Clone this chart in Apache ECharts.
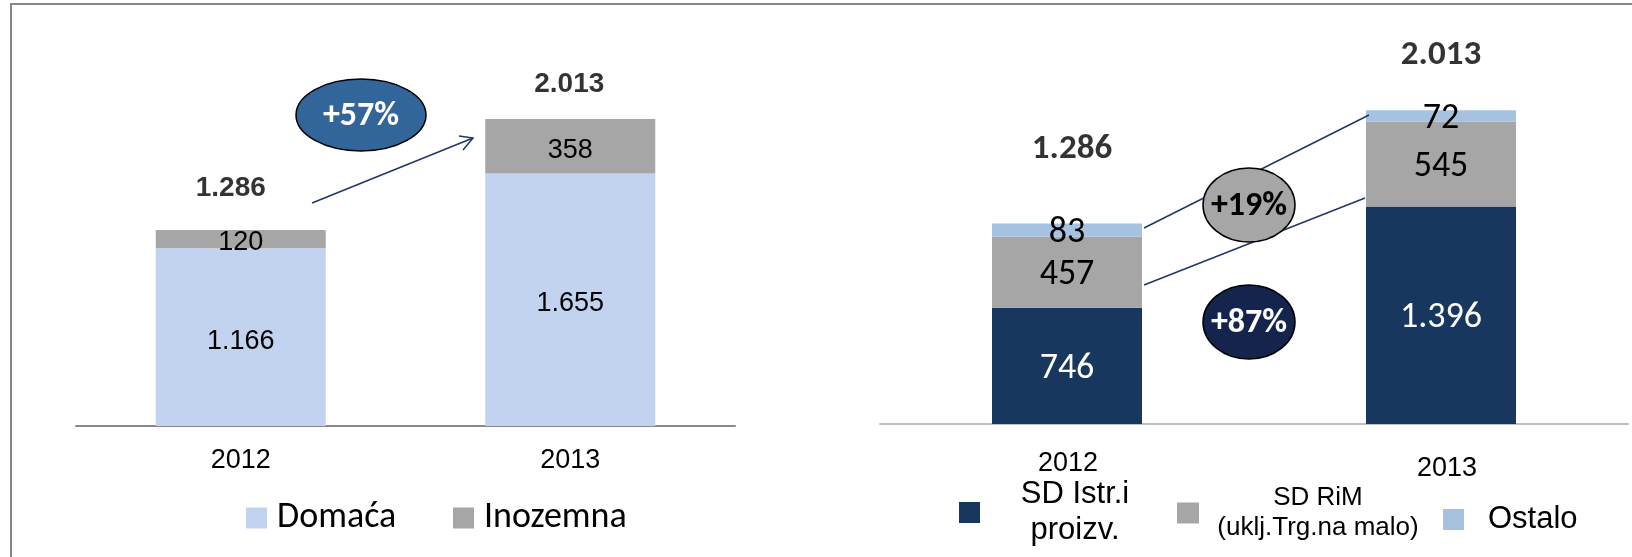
<!DOCTYPE html>
<html>
<head>
<meta charset="utf-8">
<script src="https://cdn.jsdelivr.net/npm/echarts@6/dist/echarts.min.js"></script>
<style>
  html, body { margin: 0; padding: 0; background: #fff; }
  #main { width: 1632px; height: 557px; }
</style>
</head>
<body>
<div id="main"></div>
<script>
// kategorije (godine)
var years = ['2012', '2013'];

// lijevi graf - prihodi po tržištu
var domaca = [1166, 1655];
var inozemna = [120, 358];
var totalsLeft = [1286, 2013];

// desni graf - po djelatnosti
var sdIstr = [746, 1396];
var sdRim = [457, 545];
var ostalo = [83, 72];
var totalsRight = [1286, 2013];

// nazivi serija
var namesLeft = ['Domaća', 'Inozemna'];
var namesRight = ['SD Istr.i proizv.', 'SD RiM (uklj.Trg.na malo)', 'Ostalo'];
var legendLinesRight = [['SD Istr.i', 'proizv.'], ['SD RiM', '(uklj.Trg.na malo)'], ['Ostalo']];

// anotacije
var growthLeft = '+57%';
var growthRight = ['+19%', '+87%'];

var ARIAL = 'Liberation Sans, Arial, sans-serif';
var CALIBRI = 'Carlito, Calibri, Lato, sans-serif';

// 1.286 format (točka kao separator tisućica)
function fmt(v) {
    return String(v).replace(/\B(?=(\d{3})+(?!\d))/g, '.');
}

var chart = echarts.init(document.getElementById('main'), null, { renderer: 'canvas' });

// pomaci oznaka ukupnih iznosa
var totalOffsetsLeft = [[-10, -42], [-1, -35]];
var totalOffsetsRight = [[5, -74], [0, -55]];

function totalData(vals, offs) {
    return vals.map(function (v, i) {
        return { value: v, label: { offset: offs[i] } };
    });
}

function barSeries(name, data, idx, color, labelColor, font, size, width, dy) {
    return {
        name: name,
        type: 'bar',
        stack: 's' + idx,
        xAxisIndex: idx,
        yAxisIndex: idx,
        barWidth: width,
        data: data,
        itemStyle: { color: color },
        label: {
            show: true,
            position: 'inside',
            offset: [0, dy],
            color: labelColor,
            fontFamily: font,
            fontSize: size,
            formatter: function (p) { return fmt(p.value); }
        },
        emphasis: { disabled: true },
        animation: false
    };
}

function totalSeries(vals, offs, idx, font, size) {
    return {
        type: 'scatter',
        xAxisIndex: idx,
        yAxisIndex: idx,
        symbolSize: 1,
        itemStyle: { color: 'rgba(0,0,0,0)' },
        data: totalData(vals, offs),
        label: {
            show: true,
            position: 'inside',
            color: '#000',
            fontFamily: font,
            fontWeight: 'bold',
            fontSize: size,
            formatter: function (p) { return fmt(p.value); }
        },
        silent: true,
        animation: false
    };
}

function legendRich(lines, key) {
    return lines.map(function (l) { return '{' + key + '|' + l + '}'; }).join('\n');
}

var option = {
    backgroundColor: '#fff',
    animation: false,
    grid: [
        { left: 76, right: 897, top: 60, bottom: 131 },
        { left: 880, right: 4, top: 50, bottom: 133 }
    ],
    xAxis: [
        {
            type: 'category', gridIndex: 0, data: years,
            axisLine: { lineStyle: { color: '#898989', width: 2 } },
            axisTick: { length: 9, lineStyle: { color: '#898989', width: 2 } },
            axisLabel: { color: '#000', fontFamily: ARIAL, fontSize: 27, margin: 21 }
        },
        {
            type: 'category', gridIndex: 1,
            data: [
                { value: years[0], textStyle: { padding: [3, 0, 0, 2] } },
                { value: years[1], textStyle: { padding: [8, 0, 0, 12] } }
            ],
            axisLine: { lineStyle: { color: '#BFBFBF', width: 2 } },
            axisTick: { length: 11, lineStyle: { color: '#BFBFBF', width: 2 } },
            axisLabel: { color: '#000', fontFamily: ARIAL, fontSize: 27, margin: 23 }
        }
    ],
    yAxis: [
        { type: 'value', gridIndex: 0, min: 0, max: 2400, show: false },
        { type: 'value', gridIndex: 1, min: 0, max: 2400, show: false }
    ],
    legend: [
        {
            data: [namesLeft[0]], left: 246, top: 500, padding: 0,
            icon: 'rect', itemWidth: 21, itemHeight: 21,
            textStyle: { fontFamily: CALIBRI, fontSize: 36, color: '#000', padding: [0, 0, 0, 5] },
            selectedMode: false
        },
        {
            data: [namesLeft[1]], left: 453, top: 500, padding: 0,
            icon: 'rect', itemWidth: 21, itemHeight: 21,
            textStyle: { fontFamily: CALIBRI, fontSize: 36, color: '#000', padding: [0, 0, 0, 5] },
            selectedMode: false
        },
        {
            data: [namesRight[0]], left: 959, top: 479, padding: 0,
            icon: 'rect', itemWidth: 21, itemHeight: 21,
            formatter: function () { return legendRich(legendLinesRight[0], 'a'); },
            textStyle: {
                color: '#000',
                rich: { a: { fontFamily: ARIAL, fontSize: 31, lineHeight: 36, width: 180, align: 'center', color: '#000' } }
            },
            selectedMode: false
        },
        {
            data: [namesRight[1]], left: 1177, top: 485, padding: 0,
            icon: 'rect', itemWidth: 22, itemHeight: 21,
            formatter: function () { return legendRich(legendLinesRight[1], 'b'); },
            textStyle: {
                color: '#000',
                rich: { b: { fontFamily: ARIAL, fontSize: 26, lineHeight: 30, width: 228, align: 'center', color: '#000' } }
            },
            selectedMode: false
        },
        {
            data: [namesRight[2]], left: 1443, top: 504, padding: 0,
            icon: 'rect', itemWidth: 21, itemHeight: 21,
            textStyle: { fontFamily: ARIAL, fontSize: 31, color: '#000', padding: [0, 0, 0, 19] },
            selectedMode: false
        }
    ],
    series: [
        barSeries(namesLeft[0], domaca, 0, '#C2D3EF', '#000', ARIAL, 27, 170, 4),
        barSeries(namesLeft[1], inozemna, 0, '#A6A6A6', '#000', ARIAL, 27, 170, 4),
        totalSeries(totalsLeft, totalOffsetsLeft, 0, ARIAL, 28),
        barSeries(namesRight[0], sdIstr, 1, '#17375E', '#fff', CALIBRI, 36, 150, 3),
        barSeries(namesRight[1], sdRim, 1, '#A6A6A6', '#000', CALIBRI, 36, 150, 3),
        barSeries(namesRight[2], ostalo, 1, '#A5C3E0', '#000', CALIBRI, 36, 150, 3),
        totalSeries(totalsRight, totalOffsetsRight, 1, CALIBRI, 35)
    ],
    graphic: [
        // okvir
        {
            type: 'rect', shape: { x: 11, y: 4, width: 1700, height: 700 },
            style: { fill: null, stroke: '#868686', lineWidth: 2 }, silent: true, z: 100
        },
        // strelica lijevo
        {
            type: 'line', shape: { x1: 312, y1: 203, x2: 473, y2: 138 },
            style: { stroke: '#1F3864', lineWidth: 1.5 }, z: 100
        },
        {
            type: 'polyline', shape: { points: [[459, 136], [473, 138], [463, 150]] },
            style: { stroke: '#1F3864', lineWidth: 1.5, fill: null }, z: 100
        },
        {
            type: 'ellipse', shape: { cx: 361, cy: 115, rx: 65, ry: 36 },
            style: { fill: '#32669A', stroke: '#000', lineWidth: 1.5 }, z: 101
        },
        {
            type: 'text', x: 361, y: 116, z: 102,
            style: {
                text: growthLeft, fill: '#fff', font: 'bold 34px ' + CALIBRI,
                align: 'center', verticalAlign: 'middle'
            }
        },
        // spojnice desno
        {
            type: 'line', shape: { x1: 1144, y1: 228, x2: 1369, y2: 115 },
            style: { stroke: '#1F3864', lineWidth: 1.5 }, z: 100
        },
        {
            type: 'line', shape: { x1: 1144, y1: 285, x2: 1365, y2: 198 },
            style: { stroke: '#1F3864', lineWidth: 1.5 }, z: 100
        },
        {
            type: 'ellipse', shape: { cx: 1249, cy: 205, rx: 46, ry: 37 },
            style: { fill: '#A6A6A6', stroke: '#000', lineWidth: 1.5 }, z: 101
        },
        {
            type: 'text', x: 1249, y: 206, z: 102,
            style: {
                text: growthRight[0], fill: '#000', font: 'bold 34px ' + CALIBRI,
                align: 'center', verticalAlign: 'middle'
            }
        },
        {
            type: 'ellipse', shape: { cx: 1249, cy: 322, rx: 46, ry: 37 },
            style: { fill: '#14244C', stroke: '#000', lineWidth: 1.5 }, z: 101
        },
        {
            type: 'text', x: 1249, y: 323, z: 102,
            style: {
                text: growthRight[1], fill: '#fff', font: 'bold 34px ' + CALIBRI,
                align: 'center', verticalAlign: 'middle'
            }
        }
    ]
};

chart.setOption(option);
window.onresize = chart.resize;
</script>
</body>
</html>
